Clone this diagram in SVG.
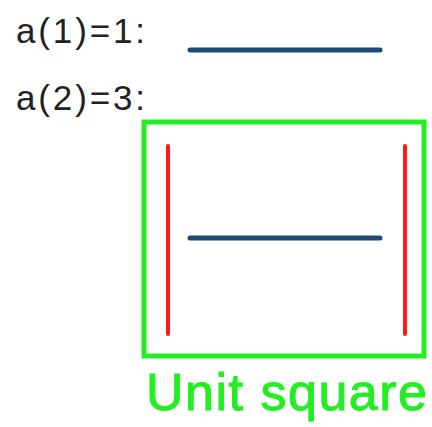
<svg xmlns="http://www.w3.org/2000/svg" width="432" height="427" viewBox="0 0 432 427">
<style>
.lbl{font-family:"Liberation Sans",Arial,sans-serif;font-size:35px;fill:#222}
.blue{stroke:#1f4a73;stroke-width:5;stroke-linecap:round}
.red{stroke:#ff1a1a;stroke-width:4;stroke-linecap:round}
</style>
<rect width="432" height="427" fill="#fff"/>
<g id="label1"><text class="lbl" x="16" y="43" textLength="129" lengthAdjust="spacing">a(1)=1:</text></g>
<g id="label2"><text class="lbl" x="16" y="110" textLength="129" lengthAdjust="spacing">a(2)=3:</text></g>
<g id="seg1"><line class="blue" x1="190" y1="50" x2="380" y2="50"/></g>
<g id="square">
<rect x="144" y="122" width="280" height="234" fill="none" stroke="#22ee22" stroke-width="5"/>
<text x="146" y="410" font-family="'Liberation Sans',Arial,sans-serif" font-size="52" fill="#22ee22" stroke="#22ee22" stroke-width="1" textLength="281" lengthAdjust="spacing">Unit square</text>
</g>
<g id="seg2">
<line class="red" x1="168" y1="146" x2="168" y2="334"/>
<line class="red" x1="405" y1="146" x2="405" y2="334"/>
<line class="blue" x1="190" y1="238" x2="380" y2="238"/>
</g>
</svg>
